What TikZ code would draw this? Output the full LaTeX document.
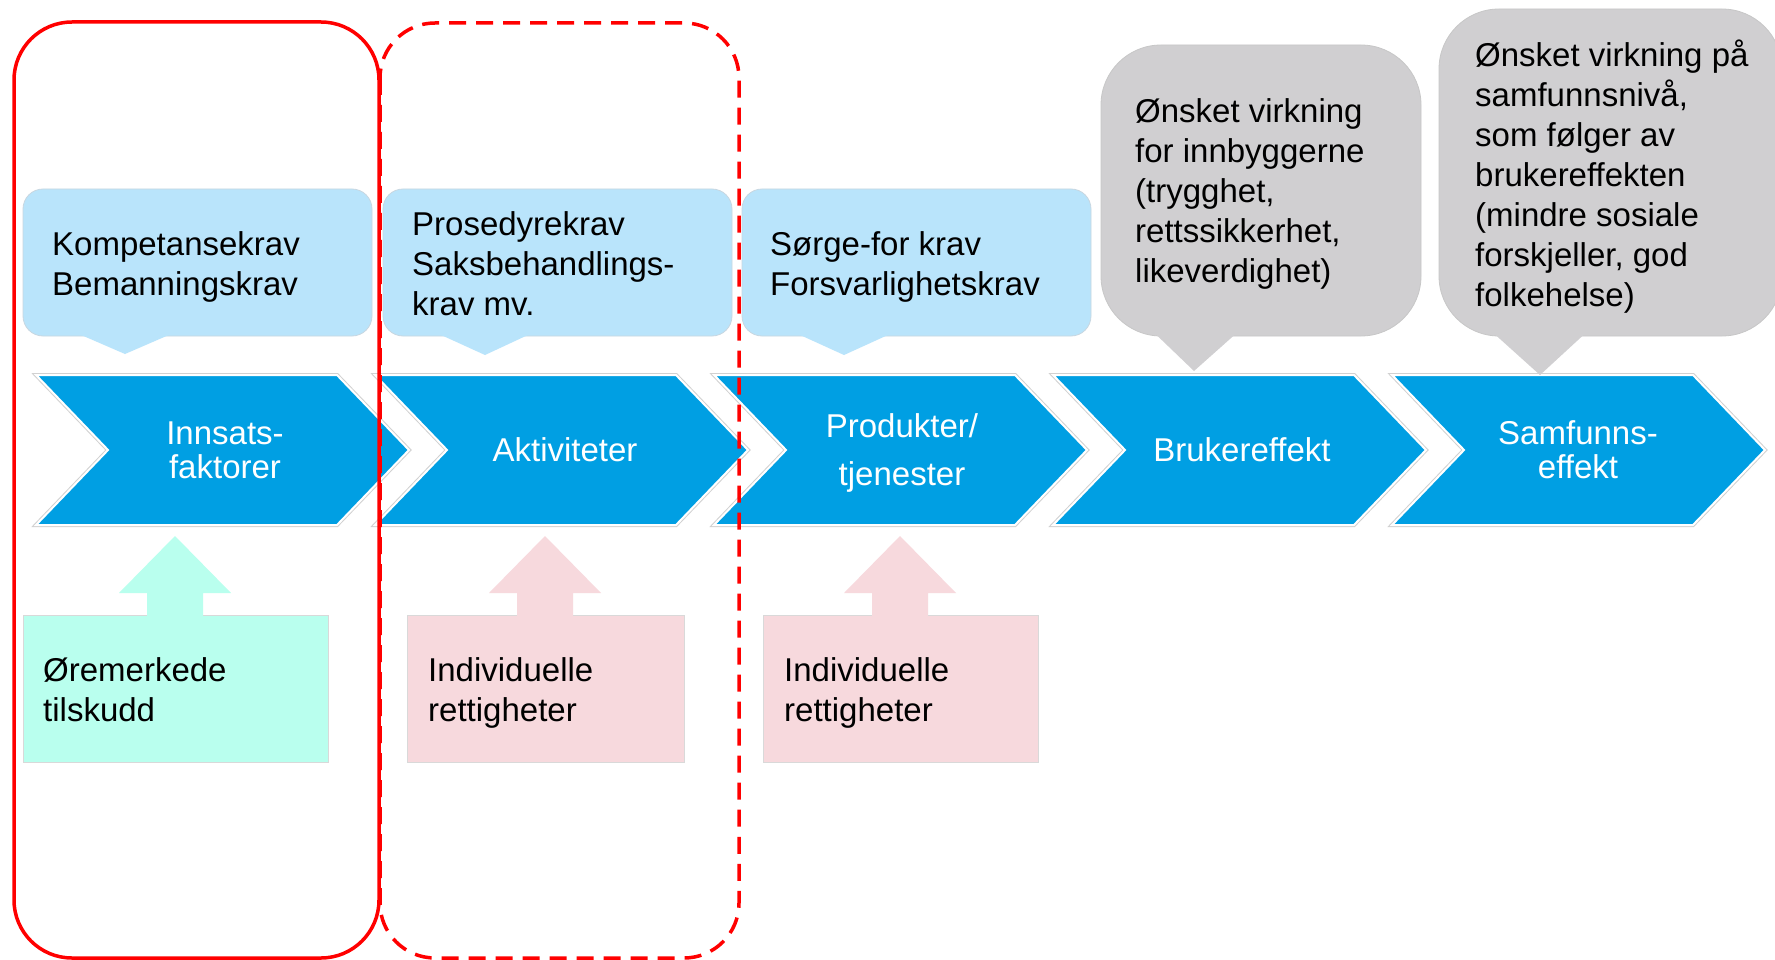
\documentclass[tikz,border=0pt]{standalone}
\usepackage{fontspec}
\setmainfont{Liberation Sans}
\definecolor{cblue}{RGB}{0,159,227}
\definecolor{lblue}{RGB}{185,228,251}
\definecolor{lbedge}{RGB}{200,215,225}
\definecolor{cgray}{RGB}{208,207,209}
\definecolor{cteal}{RGB}{185,255,238}
\definecolor{cpink}{RGB}{247,217,221}
\definecolor{cred}{RGB}{255,0,0}
\begin{document}
\begin{tikzpicture}[x=1pt,y=-1pt,
  txt/.style={anchor=north west, align=left, inner sep=0pt, text=black, font=\fontsize{33}{40}\selectfont},
  ctxt/.style={anchor=north, align=center, inner sep=0pt, text=white, font=\fontsize{33}{34}\selectfont},
  chevfill/.style={fill=cblue, draw=white, line width=2pt},
  chevedge/.style={draw=black!18, line width=4pt},
  callblue/.style={fill=lblue, draw=lbedge, line width=0.8pt, rounded corners=20pt},
  callgray/.style={fill=cgray, draw=black!22, line width=0.8pt, rounded corners=60pt},
  ptrblue/.style={fill=lblue},
  ptrgray/.style={fill=cgray},
  tealbox/.style={fill=cteal, draw=black!15, line width=0.8pt},
  pinkbox/.style={fill=cpink, draw=black!15, line width=0.8pt},
  redframe/.style={draw=cred, line width=3.5pt}
]
\useasboundingbox (0,0) rectangle (1775,960);
\clip (0,0) rectangle (1775,960);
\fill[white] (0,0) rectangle (1775,960);

% chevrons
\foreach \b in {36,375,714,1053,1392}{
  \path[chevedge] (\b,375) -- ++(301,0) -- ++(72,75) -- ++(-72,75) -- ++(-301,0) -- ++(72,-75) -- cycle;
  \path[chevfill] (\b,375) -- ++(301,0) -- ++(72,75) -- ++(-72,75) -- ++(-301,0) -- ++(72,-75) -- cycle;
}

% light blue callouts
\path[callblue] (23,189) rectangle (372,336);
\path[ptrblue] (80,334.5) -- (170,334.5) -- (125,354) -- cycle;
\path[callblue] (383,189) rectangle (732,336);
\path[ptrblue] (440,334.5) -- (529,334.5) -- (485,355) -- cycle;
\path[callblue] (742,189) rectangle (1091,336);
\path[ptrblue] (799,334.5) -- (889,334.5) -- (844,355) -- cycle;

% gray callouts
\path[callgray] (1101,45) rectangle (1421,336);
\path[ptrgray] (1156,334.5) -- (1235,334.5) -- (1194,371) -- cycle;
\path[callgray] (1439,9) rectangle (1782,336);
\path[ptrgray] (1495,334.5) -- (1584,334.5) -- (1540,375) -- cycle;

% bottom boxes with up arrows
\path[tealbox] (23,615) rectangle (328,762);
\fill[cteal] (175,536) -- (231,593) -- (203,593) -- (203,616.5) -- (147,616.5) -- (147,593) -- (119,593) -- cycle;
\path[pinkbox] (407,615) rectangle (684,762);
\fill[cpink] (545,536) -- (601,593) -- (573,593) -- (573,616.5) -- (517,616.5) -- (517,593) -- (489,593) -- cycle;
\path[pinkbox] (763,615) rectangle (1038,762);
\fill[cpink] (900,536) -- (956,593) -- (928,593) -- (928,616.5) -- (872,616.5) -- (872,593) -- (844,593) -- cycle;

% callout texts
\node[txt] (kompetanse) at (52,231.5) {Kompetansekrav\\Bemanningskrav};
\node[txt] (prosedyre) at (412,211) {Prosedyrekrav\\Saksbehandlings-\\krav mv.};
\node[txt] (sorgefor) at (770,231.5) {Sørge-for krav\\Forsvarlighetskrav};
\node[txt] (bruker) at (1135,98) {Ønsket virkning\\for innbyggerne\\(trygghet,\\rettssikkerhet,\\likeverdighet)};
\node[txt] (samfunn) at (1475,39.5) {Ønsket virkning på\\samfunnsnivå,\\som følger av\\brukereffekten\\(mindre sosiale\\forskjeller, god\\folkehelse)};

% chevron texts
\node[ctxt] (innsats) at (225,421.5) {Innsats-\\faktorer};
\node[ctxt] (aktiv) at (565,437) {Aktiviteter};
\node[ctxt, font=\fontsize{33}{48}\selectfont] (produkt) at (902,413.5) {Produkter/\\tjenester};
\node[ctxt] (brukeff) at (1242,437) {Brukereffekt};
\node[ctxt] (samfeff) at (1578,420.5) {Samfunns-\\effekt};

% bottom box texts
\node[txt] (oremerk) at (43,657.5) {Øremerkede\\tilskudd};
\node[txt] (indiv1) at (428,657.5) {Individuelle\\rettigheter};
\node[txt] (indiv2) at (784,657.5) {Individuelle\\rettigheter};

% red frames
\draw[redframe, rounded corners=55pt, dash pattern=on 17pt off 10pt] (380,23) rectangle (739,958);
\draw[redframe, rounded corners=58pt] (14,22) rectangle (379,958);
\end{tikzpicture}
\end{document}
